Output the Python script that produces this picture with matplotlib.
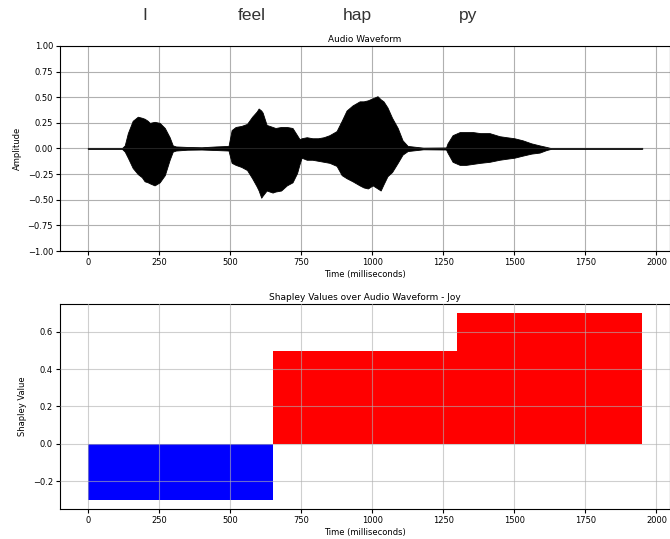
import matplotlib
matplotlib.use("Agg")
import matplotlib.pyplot as plt
import matplotlib.transforms as mtransforms

# Enveloppe du signal audio (ms, amplitude haute, amplitude basse)
temps = [0, 120, 130, 141, 158, 176, 190, 200, 211, 218, 235, 253, 271, 288, 299, 310,
         350, 400, 450, 495, 506, 520, 540, 560, 578, 594, 601, 610, 615, 629, 650, 660,
         680, 700, 720, 736, 745, 752, 770, 790, 810, 830, 850, 875, 893, 910, 931, 956,
         970, 985, 1002, 1019, 1030, 1040, 1054, 1070, 1090, 1107, 1125, 1180, 1260, 1265,
         1283, 1308, 1330, 1355, 1380, 1413, 1448, 1473, 1500, 1529, 1560, 1589, 1613,
         1630, 1950]
haut = [0.003, 0.003, 0.03, 0.15, 0.27, 0.31, 0.30, 0.29, 0.27, 0.25, 0.26, 0.25, 0.20,
        0.11, 0.03, 0.02, 0.015, 0.012, 0.02, 0.025, 0.18, 0.21, 0.22, 0.24, 0.31, 0.36,
        0.39, 0.37, 0.35, 0.23, 0.21, 0.20, 0.21, 0.21, 0.20, 0.13, 0.09, 0.10, 0.11, 0.10,
        0.10, 0.11, 0.13, 0.17, 0.27, 0.37, 0.42, 0.46, 0.46, 0.47, 0.49, 0.51, 0.48, 0.46,
        0.40, 0.30, 0.20, 0.08, 0.025, 0.008, 0.01, 0.05, 0.13, 0.16, 0.16, 0.16, 0.15,
        0.15, 0.12, 0.11, 0.10, 0.08, 0.05, 0.03, 0.015, 0.003, 0.003]
bas = [-0.003, -0.003, -0.03, -0.09, -0.19, -0.25, -0.28, -0.32, -0.33, -0.34, -0.36,
       -0.33, -0.26, -0.11, -0.03, -0.02, -0.012, -0.01, -0.015, -0.02, -0.14, -0.16, -0.18,
       -0.21, -0.29, -0.37, -0.41, -0.48, -0.46, -0.41, -0.43, -0.42, -0.41, -0.36, -0.33,
       -0.24, -0.15, -0.09, -0.11, -0.11, -0.12, -0.13, -0.14, -0.17, -0.26, -0.29, -0.32,
       -0.36, -0.38, -0.39, -0.36, -0.39, -0.41, -0.35, -0.27, -0.23, -0.14, -0.06, -0.025,
       -0.008, -0.01, -0.04, -0.13, -0.16, -0.16, -0.15, -0.14, -0.13, -0.11, -0.10, -0.09,
       -0.07, -0.05, -0.04, -0.015, -0.003, -0.003]

# Mots et leur position (ms)
mots = ["I", "feel", "hap", "py"]
pos_mots = [200, 576, 949, 1339]

# Segments et valeurs de Shapley
debut_segments = [0, 650, 1300]
largeur_segment = 650
valeurs_shapley = [-0.3, 0.5, 0.7]
couleurs = ["blue" if v < 0 else "red" for v in valeurs_shapley]

fig = plt.figure(figsize=(6.7, 5.39), dpi=100)
ax1 = fig.add_axes([0.0896, 0.5343, 0.9104, 0.3804])
ax2 = fig.add_axes([0.0896, 0.0557, 0.9104, 0.3803])

# signal
ax1.fill_between(temps, bas, haut, color="black", lw=0.6)
ax1.plot([temps[0], temps[-1]], [0, 0], color="#222222", lw=0.8)
ax1.set_ylim(-1, 1)
ax1.set_xlim(-97.5, 2047.5)
ax1.set_title("Audio Waveform", fontsize=6.4, pad=3)
ax1.set_xlabel("Time (milliseconds)", fontsize=6, labelpad=2)
ax1.set_ylabel("Amplitude", fontsize=6)
ax1.tick_params(labelsize=6, length=3, pad=2)
ax1.grid(True, color="#b0b0b0", lw=0.8)
ax1.set_axisbelow(True)

trans = mtransforms.blended_transform_factory(ax1.transData, fig.transFigure)
for m, p in zip(mots, pos_mots):
    fig.text(p, 0.972, m, transform=trans, ha="center", va="center", fontsize=12.5,
             color="#333333", family="Liberation Sans")

# valeurs de Shapley
ax2.bar(debut_segments, valeurs_shapley, width=largeur_segment, align="edge",
        color=couleurs, lw=0)
ax2.set_xlim(-97.5, 2047.5)
ax2.set_title("Shapley Values over Audio Waveform - Joy", fontsize=6.5, pad=3)
ax2.set_xlabel("Time (milliseconds)", fontsize=6, labelpad=2)
ax2.set_ylabel("Shapley Value", fontsize=6)
ax2.tick_params(labelsize=6, length=3, pad=2)
ax2.grid(True, color="#b0b0b0", lw=0.8, alpha=0.6)
ax2.set_axisbelow(False)

fig.savefig("out.png", dpi=100)
